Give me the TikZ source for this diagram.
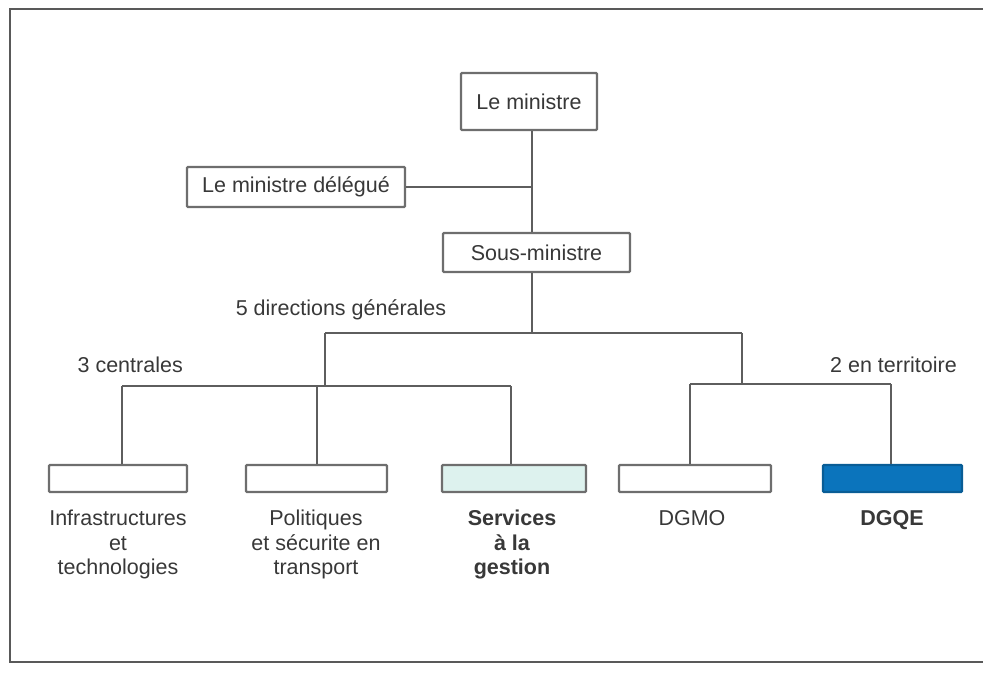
\documentclass[tikz,border=0pt]{standalone}
\usepackage{fontspec}
\setmainfont{Liberation Sans}
\definecolor{ink}{HTML}{383838}
\definecolor{wire}{HTML}{5E5E5E}
\definecolor{edge}{HTML}{6E6E6E}
\definecolor{paleteal}{HTML}{DDF2EE}
\definecolor{dgqeblue}{HTML}{0B74BC}
\tikzset{
  box/.style={draw=edge, line width=2.2pt, rounded corners=1pt, fill=white,
    inner sep=0pt, text=ink, font=\fontsize{21.5}{24.5}\selectfont},
  unit/.style={box, minimum height=27pt},
  wirel/.style={draw=wire, line width=2.2pt},
  lbl/.style={text=ink, inner sep=0pt, font=\fontsize{21.5}{24.5}\selectfont},
  sub/.style={lbl, align=center, anchor=north},
}
\begin{document}
\begin{tikzpicture}[x=1pt, y=-1pt]
  \useasboundingbox (0,0) rectangle (983,675);
  % outer frame (top, left, bottom)
  \draw[draw=gray!70!black, line width=2.8pt] (983,9) -- (10,9) -- (10,662) -- (983,662);

  % top of the hierarchy
  \node[box, minimum width=136pt, minimum height=57pt] (min) at (529,101.5) {Le ministre};
  \node[box, minimum width=218pt, minimum height=40pt] (del) at (296,187) {Le ministre délégué};
  \node[box, minimum width=187pt, minimum height=39pt] (sous) at (536.5,252.5) {Sous-ministre};
  \coordinate (spine) at (532,0);

  % five directions
  \node[unit, minimum width=138pt] (infra) at (118,478.5) {};
  \node[unit, minimum width=141pt] (poli) at (316.5,478.5) {};
  \node[unit, minimum width=144pt, fill=paleteal] (serv) at (514,478.5) {};
  \node[unit, minimum width=152pt] (dgmo) at (695,478.5) {};
  \node[unit, minimum width=139pt, draw=dgqeblue!80!black, fill=dgqeblue] (dgqe) at (892.5,478.5) {};

  % bus coordinates
  \coordinate (bus) at (0,333);
  \coordinate (lbus) at (0,386);
  \coordinate (rbus) at (0,384);
  \coordinate (ldrop) at (325,0);
  \coordinate (rdrop) at (742,0);
  \coordinate (c1) at (122,0);
  \coordinate (c2) at (317,0);
  \coordinate (c3) at (511,0);
  \coordinate (c4) at (690,0);
  \coordinate (c5) at (891,0);

  % connectors
  \draw[wirel] (min.south -| spine) -- (sous.north -| spine);
  \draw[wirel] (del.east) -- (del.east -| spine);
  \draw[wirel] (sous.south -| spine) -- (bus -| spine);
  \draw[wirel] (bus -| ldrop) -- (bus -| rdrop);
  \draw[wirel] (bus -| ldrop) -- (lbus -| ldrop);
  \draw[wirel] (bus -| rdrop) -- (rbus -| rdrop);
  \draw[wirel] (lbus -| c1) -- (lbus -| c3);
  \draw[wirel] (rbus -| c4) -- (rbus -| c5);
  \draw[wirel] (lbus -| c1) -- (infra.north -| c1);
  \draw[wirel] (lbus -| c2) -- (poli.north -| c2);
  \draw[wirel] (lbus -| c3) -- (serv.north -| c3);
  \draw[wirel] (rbus -| c4) -- (dgmo.north -| c4);
  \draw[wirel] (rbus -| c5) -- (dgqe.north -| c5);

  % group labels
  \node[lbl] (t5) at (341,310) {5 directions générales};
  \node[lbl, anchor=east] (t3) at (183,365) {3 centrales};
  \node[lbl, anchor=east] (t2) at (957,365) {2 en territoire};

  % names under the boxes
  \node[sub] (n1) at (118,510) {Infrastructures\\et\\technologies};
  \node[sub] (n2) at (316,510) {Politiques\\et sécurite en\\transport};
  \node[sub, font=\fontsize{21.5}{24.5}\selectfont\bfseries] (n3) at (512,510) {Services\\à la\\gestion};
  \node[sub] (n4) at (692,510) {DGMO};
  \node[sub, font=\fontsize{21.5}{24.5}\selectfont\bfseries] (n5) at (892,510) {DGQE};
\end{tikzpicture}
\end{document}
